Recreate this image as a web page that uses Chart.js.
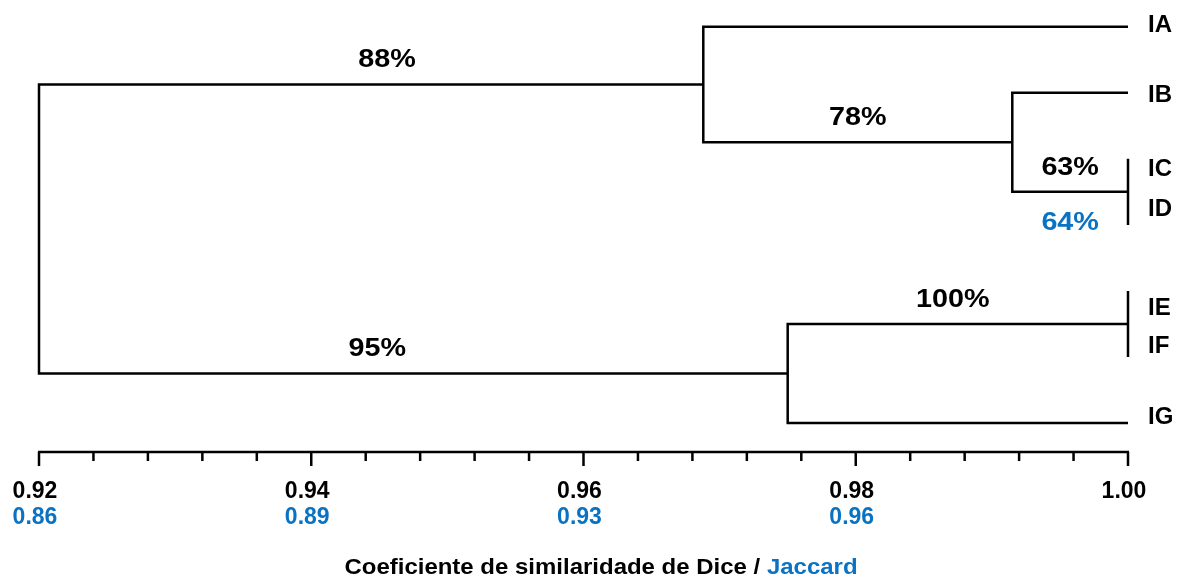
<!DOCTYPE html>
<html><head><meta charset="utf-8">
<script src="https://cdn.jsdelivr.net/npm/chart.js@4/dist/chart.umd.min.js"></script>
<style>html,body{margin:0;padding:0;background:#fff}#wrap{width:1177px;height:580px}</style>
</head><body><div id="wrap"><canvas id="c" width="1177" height="580"></canvas></div>
<script>
// ---- data ----
const leafNames = ['IA','IB','IC','ID','IE','IF','IG'];
// node ids 0-6 are leaves, 7.. are merges in the order below
const mergeLeft  = [2, 4, 1, 0, 8, 10];
const mergeRight = [3, 5, 7, 9, 6, 11];
const mergeSimilarity = [1.00, 1.00, 0.9915, 0.9688, 0.9750, 0.9200];
const diceSupport    = [63, 100, 78, 88, 95, null];
const jaccardSupport = [64, null, null, null, null, null];
const diceTickValues = [0.92, 0.94, 0.96, 0.98, 1.00];
const diceTickLabels = ['0.92','0.94','0.96','0.98','1.00'];
const jaccardTickLabels = ['0.86','0.89','0.93','0.96',''];
const minorStep = 0.004;
const axisTitleDice = 'Coeficiente de similaridade de Dice / ';
const axisTitleJaccard = 'Jaccard';

// ---- styles / layout config ----
const BLUE = '#0a72c2';
const FONT = '"Liberation Sans", Arial, sans-serif';
const LINE_W = 2.5;
const leafLabelShift = [-0.02, 0.04, 0.16, -0.23, 0.26, -0.16, -0.08];
const supportNudgePx = [0, -5, 0, 16, -36, 0];

// ---- build tree geometry from data ----
const nLeaf = leafNames.length;
const nodeX = [], nodeY = [], parent = [];
for (let i = 0; i < nLeaf; i++) { nodeX.push(1.00); nodeY.push(i); }
mergeSimilarity.forEach((s, m) => {
  const id = nLeaf + m;
  nodeX[id] = s;
  nodeY[id] = (nodeY[mergeLeft[m]] + nodeY[mergeRight[m]]) / 2;
  parent[mergeLeft[m]] = id; parent[mergeRight[m]] = id;
});
const datasets = mergeSimilarity.map((s, m) => {
  const a = mergeLeft[m], b = mergeRight[m];
  return {
    data: [
      {x: nodeX[a], y: nodeY[a]}, {x: s, y: nodeY[a]},
      {x: s, y: nodeY[b]}, {x: nodeX[b], y: nodeY[b]}
    ],
    showLine: true, pointRadius: 0, pointHoverRadius: 0,
    borderColor: '#000', borderWidth: LINE_W, tension: 0,
    borderJoinStyle: 'miter', borderCapStyle: 'butt', clip: false
  };
});

const decor = {
  id: 'decor',
  afterDraw(chart) {
    const ctx = chart.ctx, xs = chart.scales.x, ys = chart.scales.y;
    const area = chart.chartArea;
    const axY = area.bottom;
    ctx.save();
    // axis line and ticks
    ctx.strokeStyle = '#000'; ctx.lineWidth = LINE_W; ctx.lineCap = 'butt';
    ctx.beginPath();
    ctx.moveTo(xs.getPixelForValue(xs.min) - 1, axY);
    ctx.lineTo(xs.getPixelForValue(xs.max) + 1, axY);
    ctx.stroke();
    const nSteps = Math.round((xs.max - xs.min) / minorStep);
    for (let k = 0; k <= nSteps; k++) {
      const v = xs.min + k * minorStep;
      const px = xs.getPixelForValue(v);
      const len = (k % 5 === 0) ? 14 : 9;
      ctx.beginPath(); ctx.moveTo(px, axY); ctx.lineTo(px, axY + len); ctx.stroke();
    }
    // tick labels
    ctx.textAlign = 'center'; ctx.textBaseline = 'middle';
    ctx.font = 'bold 23px ' + FONT;
    diceTickValues.forEach((v, i) => {
      const px = xs.getPixelForValue(v) - 4;
      ctx.fillStyle = '#000'; ctx.fillText(diceTickLabels[i], px, axY + 40);
      ctx.fillStyle = BLUE; ctx.fillText(jaccardTickLabels[i], px, axY + 66);
    });
    // axis title (slightly widened like the reference)
    ctx.font = 'bold 22px ' + FONT;
    const sx = 1.09;
    const w1 = ctx.measureText(axisTitleDice).width;
    const w2 = ctx.measureText(axisTitleJaccard).width;
    ctx.save();
    ctx.translate(601 - (w1 + w2) * sx / 2, 568);
    ctx.scale(sx, 1);
    ctx.textAlign = 'left';
    ctx.fillStyle = '#000'; ctx.fillText(axisTitleDice, 0, 0);
    ctx.fillStyle = BLUE; ctx.fillText(axisTitleJaccard, w1, 0);
    ctx.restore();
    // leaf labels
    ctx.textAlign = 'left';
    ctx.font = 'bold 24px ' + FONT;
    ctx.fillStyle = '#000';
    leafNames.forEach((name, i) => {
      ctx.fillText(name, xs.getPixelForValue(1.00) + 20, ys.getPixelForValue(i + leafLabelShift[i]));
    });
    // support values on stems
    ctx.font = 'bold 25px ' + FONT;
    ctx.textAlign = 'center';
    mergeSimilarity.forEach((s, m) => {
      const id = nLeaf + m;
      if (parent[id] === undefined) return;
      const x0 = xs.getPixelForValue(nodeX[parent[id]]);
      const x1 = xs.getPixelForValue(s);
      const cx = (x0 + x1) / 2 + supportNudgePx[m];
      const cy = ys.getPixelForValue(nodeY[id]);
      const draw = (txt, y, col) => {
        ctx.save(); ctx.translate(cx, y); ctx.scale(1.15, 1);
        ctx.fillStyle = col; ctx.fillText(txt, 0, 0); ctx.restore();
      };
      if (diceSupport[m] != null) draw(diceSupport[m] + '%', cy - 24, '#000');
      if (jaccardSupport[m] != null) draw(jaccardSupport[m] + '%', cy + 31, BLUE);
    });
    ctx.restore();
  }
};

new Chart(document.getElementById('c'), {
  type: 'scatter',
  data: { datasets },
  options: {
    responsive: false, animation: false, devicePixelRatio: 1,
    layout: { padding: { left: 39, right: 49, top: 7, bottom: 128 } },
    plugins: { legend: { display: false }, tooltip: { enabled: false } },
    scales: {
      x: { type: 'linear', min: 0.92, max: 1.00, display: false },
      y: { type: 'linear', min: -0.3, max: 6.44, reverse: true, display: false }
    }
  },
  plugins: [decor]
});
</script></body></html>
